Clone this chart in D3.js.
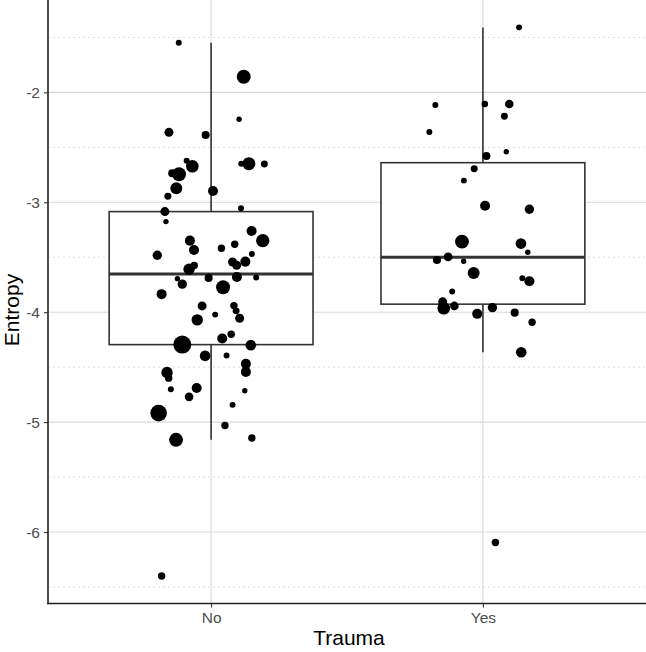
<!DOCTYPE html>
<html>
<head>
<meta charset="utf-8">
<script src="https://cdn.jsdelivr.net/npm/d3@7"></script>
<style>
  html, body { margin: 0; padding: 0; background: #fff; }
  svg { display: block; font-family: "Liberation Sans", Arial, sans-serif; }
</style>
</head>
<body>
<svg id="chart" width="646" height="652"></svg>
<script>
// ---------- data ----------
const categories = ["No", "Yes"];

// box statistics
const lowerWhisker = [-5.16, -4.364];
const q1 = [-4.295, -3.927];
const median = [-3.652, -3.50];
const q3 = [-3.085, -2.64];
const upperWhisker = [-1.549, -1.41];

// jittered observations: offset within category (category units), entropy, size variable
const noJitter = [-0.119, 0.120, 0.103, -0.155, -0.020, -0.090, -0.069, -0.143, -0.118, -0.128,
  -0.159, 0.007, 0.111, 0.139, 0.196, 0.110, -0.170, -0.166, 0.149, 0.190,
  -0.078, -0.063, -0.198, 0.038, 0.087, 0.150, 0.126, 0.079, 0.094, -0.062,
  -0.081, -0.124, -0.106, -0.009, 0.095, 0.166, 0.044, -0.182, -0.033, 0.084,
  0.092, 0.105, 0.015, -0.051, 0.041, 0.074, -0.106, 0.146, -0.022, 0.057,
  0.128, 0.128, -0.162, -0.156, -0.148, -0.053, -0.081, 0.124, 0.079, -0.193,
  0.051, -0.129, 0.150, -0.182];
const noEntropy = [-1.549, -1.858, -2.245, -2.364, -2.388, -2.622, -2.673, -2.736, -2.745, -2.873,
  -2.945, -2.897, -2.649, -2.649, -2.652, -3.055, -3.085, -3.176, -3.261, -3.349,
  -3.349, -3.434, -3.482, -3.418, -3.382, -3.470, -3.540, -3.543, -3.573, -3.576,
  -3.609, -3.695, -3.745, -3.688, -3.679, -3.685, -3.773, -3.836, -3.943, -3.940,
  -3.988, -4.055, -4.022, -4.070, -4.240, -4.200, -4.295, -4.300, -4.397, -4.394,
  -4.470, -4.543, -4.549, -4.600, -4.700, -4.690, -4.770, -4.715, -4.843, -4.918,
  -5.030, -5.161, -5.145, -6.400];
const noSize = [11, 60, 9, 25, 20, 11, 49, 20, 60, 44,
  15, 31, 11, 52, 15, 11, 25, 9, 31, 55,
  31, 31, 27, 17, 17, 11, 31, 25, 25, 17,
  40, 9, 27, 20, 31, 11, 60, 31, 25, 17,
  15, 25, 11, 40, 31, 17, 100, 35, 35, 11,
  31, 31, 40, 17, 11, 31, 23, 9, 11, 85,
  17, 60, 17, 17];

const yesJitter = [0.133, -0.175, 0.007, 0.097, 0.079, -0.197, 0.013, 0.086, -0.032, -0.070,
  0.008, 0.171, -0.077, 0.140, 0.165, -0.128, -0.169, -0.071, -0.034, 0.145,
  0.171, -0.113, -0.148, -0.144, -0.105, -0.021, 0.035, 0.117, 0.181, 0.141, 0.046];
const yesEntropy = [-1.409, -2.115, -2.106, -2.106, -2.218, -2.361, -2.579, -2.540, -2.695, -2.803,
  -3.031, -3.064, -3.358, -3.376, -3.455, -3.497, -3.525, -3.537, -3.643, -3.691,
  -3.718, -3.812, -3.906, -3.964, -3.943, -4.015, -3.958, -4.004, -4.091, -4.364, -6.095];
const yesSize = [11, 11, 13, 23, 15, 11, 20, 9, 15, 11,
  31, 27, 60, 35, 9, 23, 20, 9, 44, 11,
  31, 11, 25, 49, 23, 31, 27, 20, 17, 35, 17];

const yTicks = [-6, -5, -4, -3, -2];
const yMinorTicks = [-6.5, -5.5, -4.5, -3.5, -2.5, -1.5];
const xTitle = "Trauma";
const yTitle = "Entropy";

// ---------- layout ----------
const W = 646, H = 652;
const plot = { left: 48, right: 646, top: 0, bottom: 603.5 };

const svg = d3.select("#chart");

const x = d3.scalePoint().domain(categories).range([plot.left, plot.right]).padding(0.6);
const step = x.step();
const y = d3.scaleLinear().domain([-6.65, -1.16]).range([plot.bottom, plot.top]);
const r = d3.scaleSqrt().domain([0, 100]).range([0, 9]);

// ---------- grid ----------
const grid = svg.append("g");
grid.selectAll("line.minor").data(yMinorTicks).join("line")
  .attr("x1", plot.left).attr("x2", plot.right)
  .attr("y1", d => y(d)).attr("y2", d => y(d))
  .attr("stroke", "#d4d4d4").attr("stroke-width", 0.8)
  .attr("stroke-dasharray", "2,3");
grid.selectAll("line.major").data(yTicks).join("line")
  .attr("x1", plot.left).attr("x2", plot.right)
  .attr("y1", d => y(d)).attr("y2", d => y(d))
  .attr("stroke", "#d9d9d9").attr("stroke-width", 1.1);
grid.selectAll("line.vmajor").data(categories).join("line")
  .attr("x1", d => x(d)).attr("x2", d => x(d))
  .attr("y1", plot.top).attr("y2", plot.bottom)
  .attr("stroke", "#d9d9d9").attr("stroke-width", 1.1);

// ---------- boxes ----------
const boxes = categories.map((c, i) => ({
  c, lw: lowerWhisker[i], q1: q1[i], med: median[i], q3: q3[i], uw: upperWhisker[i]
}));
const bw = step * 0.75;
const bg = svg.append("g");
bg.selectAll("line.wu").data(boxes).join("line")
  .attr("x1", d => x(d.c)).attr("x2", d => x(d.c))
  .attr("y1", d => y(d.q3)).attr("y2", d => y(d.uw))
  .attr("stroke", "#333").attr("stroke-width", 1.6);
bg.selectAll("line.wl").data(boxes).join("line")
  .attr("x1", d => x(d.c)).attr("x2", d => x(d.c))
  .attr("y1", d => y(d.q1)).attr("y2", d => y(d.lw))
  .attr("stroke", "#333").attr("stroke-width", 1.6);
bg.selectAll("rect").data(boxes).join("rect")
  .attr("x", d => x(d.c) - bw / 2).attr("width", bw)
  .attr("y", d => y(d.q3)).attr("height", d => y(d.q1) - y(d.q3))
  .attr("fill", "#fff").attr("stroke", "#333").attr("stroke-width", 1.6);
bg.selectAll("line.med").data(boxes).join("line")
  .attr("x1", d => x(d.c) - bw / 2).attr("x2", d => x(d.c) + bw / 2)
  .attr("y1", d => y(d.med)).attr("y2", d => y(d.med))
  .attr("stroke", "#333").attr("stroke-width", 3);

// ---------- points ----------
const pts = [];
noEntropy.forEach((v, i) => pts.push({ c: "No", j: noJitter[i], v, s: noSize[i] }));
yesEntropy.forEach((v, i) => pts.push({ c: "Yes", j: yesJitter[i], v, s: yesSize[i] }));
svg.append("g").selectAll("circle").data(pts).join("circle")
  .attr("cx", d => x(d.c) + d.j * step)
  .attr("cy", d => y(d.v))
  .attr("r", d => r(d.s))
  .attr("fill", "#000");

// ---------- axes ----------
const xAxis = svg.append("g").attr("transform", `translate(0,${plot.bottom})`)
  .call(d3.axisBottom(x).tickSize(4).tickPadding(4));
const yAxis = svg.append("g").attr("transform", `translate(${plot.left},0)`)
  .call(d3.axisLeft(y).tickValues(yTicks).tickFormat(d3.format("d")).tickSize(4).tickPadding(4));
[xAxis, yAxis].forEach(a => {
  a.select(".domain").remove();
  a.selectAll(".tick line").attr("stroke", "#333").attr("stroke-width", 1.1);
  a.selectAll(".tick text").attr("fill", "#4d4d4d").style("font-size", "15.5px")
    .style("font-family", "'Liberation Sans', Arial, sans-serif");
});
yAxis.selectAll(".tick text").text(d => String(d).replace("-", "-"));

// axis lines
svg.append("line").attr("x1", plot.left).attr("x2", plot.left)
  .attr("y1", plot.top).attr("y2", plot.bottom + 0.8)
  .attr("stroke", "#222").attr("stroke-width", 1.6);
svg.append("line").attr("x1", plot.left - 0.8).attr("x2", plot.right)
  .attr("y1", plot.bottom).attr("y2", plot.bottom)
  .attr("stroke", "#222").attr("stroke-width", 1.6);

// titles
svg.append("text").attr("x", 349).attr("y", 645)
  .attr("text-anchor", "middle").style("font-size", "21px").attr("fill", "#000")
  .text(xTitle);
svg.append("text").attr("transform", "translate(19,310) rotate(-90)")
  .attr("text-anchor", "middle").style("font-size", "21px").attr("fill", "#000")
  .text(yTitle);
</script>
</body>
</html>
